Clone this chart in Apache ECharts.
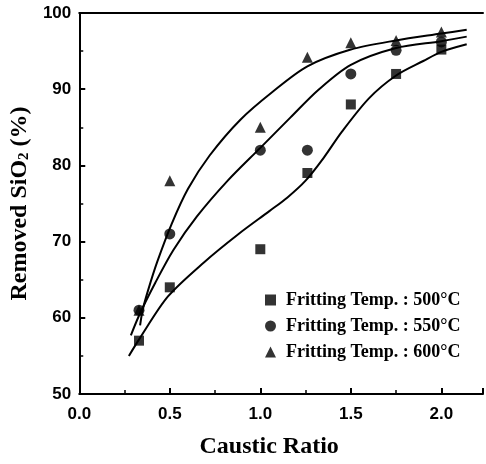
<!DOCTYPE html>
<html>
<head>
<meta charset="utf-8">
<script src="https://cdn.jsdelivr.net/npm/echarts@6/dist/echarts.min.js"></script>
<style>
  html, body { margin: 0; padding: 0; background: #fff; }
  #main { width: 486px; height: 464px; }
</style>
</head>
<body>
<div id="main"></div>
<script>
// 图例名称
var seriesNames = ['Fritting Temp. : 500°C', 'Fritting Temp. : 550°C', 'Fritting Temp. : 600°C'];

// 实测点 [Caustic Ratio, Removed SiO2 %]
var pts500 = [[0.33, 57], [0.5, 64], [1.0, 69], [1.26, 79], [1.5, 88], [1.75, 92], [2.0, 95.2]];
var pts550 = [[0.33, 61], [0.5, 71], [1.0, 82], [1.26, 82], [1.5, 92], [1.75, 95.1], [2.0, 96.2]];
var pts600 = [[0.33, 61], [0.5, 78], [1.0, 85], [1.26, 94.2], [1.5, 96.1], [1.75, 96.4], [2.0, 97.5]];

// 拟合曲线
var fit500 = [[0.274, 55.0], [0.334, 57.3], [0.49, 62.8], [0.69, 67.3], [0.88, 71.0], [1.05, 74.0],
  [1.15, 75.8], [1.25, 78.0], [1.35, 81.0], [1.45, 84.4], [1.6, 88.8], [1.75, 91.8], [1.9, 93.7],
  [2.0, 94.9], [2.14, 95.9]];
var fit550 = [[0.285, 57.7], [0.334, 60.5], [0.42, 64.6], [0.52, 68.9], [0.65, 73.3], [0.82, 78.0],
  [1.0, 82.3], [1.167, 86.3], [1.32, 89.9], [1.5, 93.2], [1.75, 95.4], [2.0, 96.3], [2.14, 96.9]];
var fit600 = [[0.336, 59.0], [0.35, 61.0], [0.38, 63.6], [0.43, 67.3], [0.51, 72.3], [0.60, 76.9],
  [0.72, 81.3], [0.89, 86.0], [1.07, 89.7], [1.26, 93.0], [1.5, 95.2], [1.75, 96.4], [2.0, 97.3],
  [2.14, 97.8]];

var serif = "'Liberation Serif', 'Times New Roman', serif";
var sans = "'Liberation Sans', Arial, sans-serif";

var myChart = echarts.init(document.getElementById('main'));

function fitLine(name, data) {
    return {
        name: name,
        type: 'line',
        data: data,
        smooth: 0.3,
        showSymbol: false,
        symbol: 'none',
        silent: true,
        z: 2,
        lineStyle: { color: '#000', width: 2 }
    };
}

function dots(name, data, symbol, size) {
    return {
        name: name,
        type: 'scatter',
        data: data,
        symbol: symbol,
        symbolSize: size,
        z: 3,
        itemStyle: { color: '#000' }
    };
}

var option = {
    animation: false,
    backgroundColor: '#fff',
    grid: { left: 77, right: 3, top: 13, bottom: 67 },
    legend: {
        data: seriesNames,
        orient: 'vertical',
        left: 260,
        top: 286,
        itemWidth: 11,
        itemHeight: 11,
        itemGap: 8,
        textStyle: { fontFamily: serif, fontWeight: 'bold', fontSize: 18, color: '#000', padding: [0, 0, 0, 5] }
    },
    xAxis: [
        {
            type: 'value',
            min: 0,
            max: 2.23,
            interval: 0.5,
            name: 'Caustic Ratio',
            nameLocation: 'middle',
            nameGap: 41,
            nameTextStyle: { fontFamily: serif, fontWeight: 'bold', fontSize: 24, color: '#000', padding: [0, 24, 0, 0] },
            axisLine: { lineStyle: { color: '#000', width: 2 } },
            axisTick: { inside: true, length: 6, lineStyle: { color: '#000', width: 2 } },
            minorTick: { show: true, splitNumber: 2, length: 4, lineStyle: { color: '#000', width: 1.5 } },
            splitLine: { show: false },
            axisLabel: {
                showMaxLabel: false,
                margin: 12,
                fontFamily: sans, fontWeight: 'bold', fontSize: 17, color: '#000',
                formatter: function (v) { return v.toFixed(1); }
            }
        },
        {
            type: 'value',
            position: 'top',
            min: 0,
            max: 2.23,
            axisLine: { show: true, lineStyle: { color: '#000', width: 2 } },
            axisTick: { show: false },
            axisLabel: { show: false },
            splitLine: { show: false }
        }
    ],
    yAxis: {
        type: 'value',
        min: 50,
        max: 100,
        interval: 10,
        name: 'Removed SiO{sub|2} (%)',
        nameLocation: 'middle',
        nameGap: 42,
        nameTextStyle: {
            fontFamily: serif, fontWeight: 'bold', fontSize: 24, color: '#000',
            rich: {
                sub: { fontFamily: serif, fontWeight: 'bold', fontSize: 15, color: '#000', verticalAlign: 'bottom', lineHeight: 18 }
            }
        },
        axisLine: { show: true, lineStyle: { color: '#000', width: 2 } },
        axisTick: { inside: true, length: 6, lineStyle: { color: '#000', width: 2 } },
        minorTick: { show: true, splitNumber: 2, length: 4, lineStyle: { color: '#000', width: 1.5 } },
        splitLine: { show: false },
        axisLabel: { margin: 8, fontFamily: sans, fontWeight: 'bold', fontSize: 17, color: '#000' }
    },
    series: [
        fitLine('fit500', fit500),
        fitLine('fit550', fit550),
        fitLine('fit600', fit600),
        dots(seriesNames[0], pts500, 'rect', 10),
        dots(seriesNames[1], pts550, 'circle', 11),
        dots(seriesNames[2], pts600, 'triangle', 11)
    ]
};

myChart.setOption(option);
</script>
</body>
</html>
